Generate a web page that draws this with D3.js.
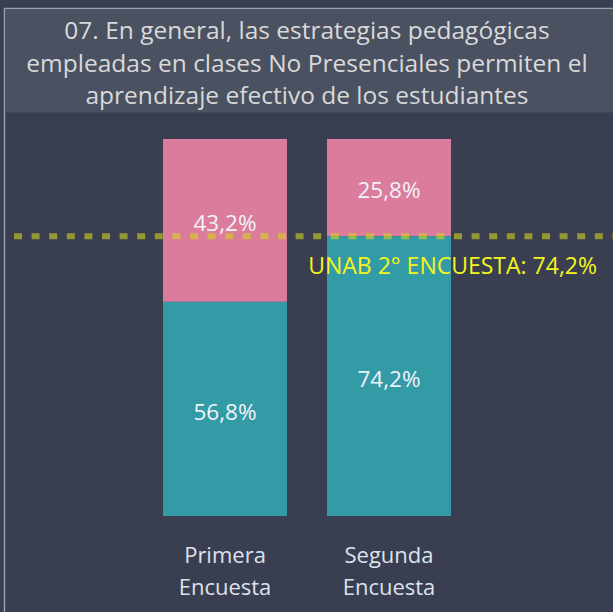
<!DOCTYPE html>
<html>
<head>
<meta charset="utf-8">
<script src="https://cdn.jsdelivr.net/npm/d3@7"></script>
<style>
  body { margin: 0; background: #393e50; }
  svg { display: block; }
</style>
</head>
<body>
<svg width="613" height="612"></svg>
<script>
var titleLines = ["07. En general, las estrategias pedagógicas",
                  "empleadas en clases No Presenciales permiten el",
                  "aprendizaje efectivo de los estudiantes"];
var categories = [["Primera", "Encuesta"], ["Segunda", "Encuesta"]];
var acuerdo = [56.8, 74.2];      // teal, bottom
var desacuerdo = [43.2, 25.8];   // pink, top
var refValue = 74.2;
var refLabel = "UNAB 2° ENCUESTA: 74,2%";

var fmt = function(v) { return v.toFixed(1).replace(".", ",") + "%"; };

var svg = d3.select("svg"),
    width = +svg.attr("width"),
    height = +svg.attr("height");

// frame
svg.append("rect").attr("width", width).attr("height", height).attr("fill", "#393e50");
svg.append("rect")
    .attr("x", 4.5).attr("y", 8.5).attr("width", width).attr("height", height)
    .attr("fill", "none").attr("stroke", "#9aa0aa").attr("stroke-width", 1.5);
svg.append("rect")
    .attr("x", 5.5).attr("y", 9.5).attr("width", width - 5).attr("height", 103)
    .attr("fill", "#4a5161");

svg.append("g").selectAll("text")
    .data(titleLines)
  .enter().append("text")
    .attr("x", 307)
    .attr("y", function(d, i) { return 39 + i * 32.5; })
    .attr("text-anchor", "middle")
    .attr("fill", "#d9d9d9")
    .style("font-family", "'Open Sans', sans-serif")
    .style("font-size", "24.5px")
    .text(function(d) { return d; });

var keys = categories.map(function(d) { return d.join(" "); });

var x = d3.scaleBand()
    .domain(keys)
    .range([143, 471])
    .paddingInner(0.244)
    .paddingOuter(0.122);

var y = d3.scaleLinear()
    .domain([0, 100])
    .range([516, 139]);

var rows = keys.map(function(k, i) { return {key: k, a: acuerdo[i], d: desacuerdo[i]}; });

var g = svg.append("g");

// pink (top)
g.selectAll(".top")
    .data(rows)
  .enter().append("rect")
    .attr("x", function(d) { return x(d.key); })
    .attr("y", function(d) { return y(d.a + d.d); })
    .attr("width", x.bandwidth())
    .attr("height", function(d) { return y(d.a) - y(d.a + d.d); })
    .attr("fill", "#db7c9c");

// teal (bottom)
g.selectAll(".bottom")
    .data(rows)
  .enter().append("rect")
    .attr("x", function(d) { return x(d.key); })
    .attr("y", function(d) { return y(d.a); })
    .attr("width", x.bandwidth())
    .attr("height", function(d) { return y(0) - y(d.a); })
    .attr("fill", "#339ba5");

// value labels
var lblStyle = function(sel) {
  sel.attr("text-anchor", "middle")
     .attr("dy", "0.47em")
     .attr("fill", "#f2f2fa")
     .style("font-family", "'Open Sans', sans-serif")
     .style("font-size", "22.5px");
};
g.selectAll(".lt")
    .data(rows)
  .enter().append("text")
    .attr("x", function(d) { return x(d.key) + x.bandwidth() / 2; })
    .attr("y", function(d) { return (y(d.a) + y(d.a + d.d)) / 2; })
    .call(lblStyle)
    .text(function(d) { return fmt(d.d); });
g.selectAll(".lb")
    .data(rows)
  .enter().append("text")
    .attr("x", function(d) { return x(d.key) + x.bandwidth() / 2; })
    .attr("y", function(d) { return (y(d.a) + y(0)) / 2; })
    .call(lblStyle)
    .text(function(d) { return fmt(d.a); });

// category labels
var cat = g.selectAll(".cat")
    .data(rows)
  .enter().append("text")
    .attr("x", function(d) { return x(d.key) + x.bandwidth() / 2; })
    .attr("y", 563)
    .attr("text-anchor", "middle")
    .attr("fill", "#dde2ee")
    .style("font-family", "'Open Sans', sans-serif")
    .style("font-size", "22px");
cat.selectAll("tspan")
    .data(function(d, i) { return categories[i]; })
  .enter().append("tspan")
    .attr("x", function() { return d3.select(this.parentNode).attr("x"); })
    .attr("dy", function(d, i) { return i ? 32 : 0; })
    .text(function(d) { return d; });

// reference line
svg.append("line")
    .attr("x1", 14).attr("x2", width)
    .attr("y1", y(refValue)).attr("y2", y(refValue))
    .attr("stroke", "#d4d41c")
    .attr("stroke-opacity", 0.6)
    .attr("stroke-width", 6)
    .attr("stroke-dasharray", "8,9.6");

svg.append("text")
    .attr("x", 597)
    .attr("y", y(refValue) + 38)
    .attr("text-anchor", "end")
    .attr("fill", "#f5f51e")
    .style("font-family", "'Open Sans', sans-serif")
    .style("font-size", "23px")
    .text(refLabel);
</script>
</body>
</html>
